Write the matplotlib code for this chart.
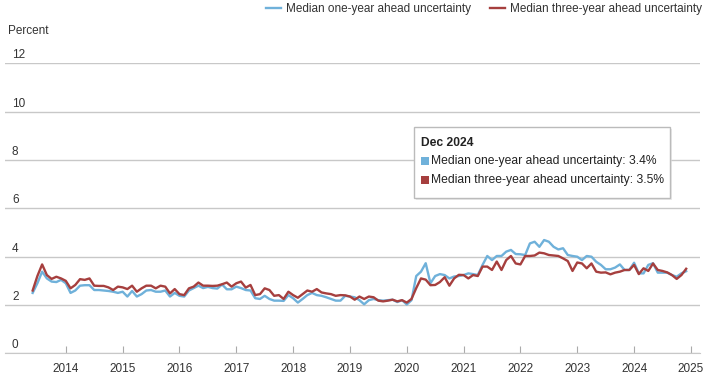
import numpy as np
import matplotlib.pyplot as plt
from matplotlib.patches import FancyBboxPatch, Rectangle

plt.rcParams['font.family'] = ['Liberation Sans', 'DejaVu Sans']

# monthly data, Jun 2013 - Dec 2024
start_year, start_month = 2013, 6

one_year = [
    2.5, 2.9, 3.38, 3.1, 2.97, 2.95, 3.04,                                   # 2013
    2.9, 2.5, 2.6, 2.8, 2.82, 2.82, 2.62, 2.62, 2.6, 2.58, 2.55, 2.5,         # 2014
    2.55, 2.35, 2.58, 2.35, 2.45, 2.6, 2.62, 2.55, 2.55, 2.6, 2.35, 2.5,      # 2015
    2.38, 2.35, 2.6, 2.7, 2.8, 2.7, 2.75, 2.7, 2.68, 2.85, 2.65, 2.65,        # 2016
    2.76, 2.7, 2.62, 2.6, 2.28, 2.25, 2.38, 2.25, 2.18, 2.18, 2.17, 2.41,     # 2017
    2.28, 2.1, 2.25, 2.41, 2.5, 2.41, 2.38, 2.32, 2.25, 2.18, 2.18, 2.38,     # 2018
    2.35, 2.32, 2.2, 2.03, 2.2, 2.25, 2.2, 2.18, 2.2, 2.22, 2.12, 2.2,        # 2019
    2.02, 2.2, 3.2, 3.38, 3.73, 2.9, 3.2, 3.28, 3.24, 3.1, 3.18, 3.2,         # 2020
    3.24, 3.31, 3.28, 3.24, 3.66, 4.03, 3.86, 4.03, 4.03, 4.21, 4.28, 4.11,   # 2021
    4.1, 4.07, 4.55, 4.62, 4.41, 4.69, 4.62, 4.41, 4.3, 4.35, 4.07, 4.03,     # 2022
    4.0, 3.86, 4.03, 4.0, 3.79, 3.66, 3.48, 3.48, 3.55, 3.68, 3.45, 3.45,     # 2023
    3.75, 3.31, 3.31, 3.66, 3.73, 3.34, 3.34, 3.34, 3.24, 3.17, 3.31, 3.4,    # 2024
]

three_year = [
    2.6, 3.2, 3.68, 3.24, 3.08, 3.17, 3.1,                                    # 2013
    3.0, 2.69, 2.83, 3.07, 3.04, 3.1, 2.8, 2.79, 2.79, 2.73, 2.62, 2.76,      # 2014
    2.73, 2.66, 2.8, 2.55, 2.69, 2.8, 2.8, 2.69, 2.8, 2.76, 2.48, 2.66,       # 2015
    2.45, 2.41, 2.69, 2.76, 2.93, 2.8, 2.8, 2.79, 2.8, 2.86, 2.93, 2.76,      # 2016
    2.9, 2.97, 2.72, 2.83, 2.41, 2.45, 2.69, 2.62, 2.38, 2.41, 2.25, 2.55,    # 2017
    2.41, 2.3, 2.45, 2.6, 2.55, 2.66, 2.52, 2.48, 2.45, 2.38, 2.41, 2.4,      # 2018
    2.35, 2.22, 2.35, 2.25, 2.35, 2.32, 2.18, 2.15, 2.18, 2.22, 2.15, 2.2,    # 2019
    2.1, 2.25, 2.7, 3.1, 3.05, 2.82, 2.83, 2.95, 3.15, 2.8, 3.1, 3.25,        # 2020
    3.24, 3.1, 3.24, 3.2, 3.59, 3.59, 3.45, 3.8, 3.45, 3.86, 4.03, 3.72,      # 2021
    3.68, 4.03, 4.03, 4.05, 4.17, 4.14, 4.07, 4.05, 4.03, 3.93, 3.82, 3.41,   # 2022
    3.76, 3.72, 3.52, 3.72, 3.38, 3.34, 3.35, 3.27, 3.34, 3.38, 3.45, 3.45,   # 2023
    3.66, 3.28, 3.52, 3.41, 3.72, 3.45, 3.41, 3.35, 3.24, 3.08, 3.24, 3.5,    # 2024
]

series_names = ['Median one-year ahead uncertainty', 'Median three-year ahead uncertainty']
colors = ['#6fb1da', '#a63f3e']
year_ticks = list(range(2014, 2026))
y_ticks = [0, 2, 4, 6, 8, 10, 12]

n = len(one_year)
x = start_year + (start_month - 1) / 12 + np.arange(n) / 12

W, H = 706, 378
fig = plt.figure(figsize=(W / 100, H / 100), dpi=100)
ax = fig.add_axes([5 / W, (H - 353.3) / H, 695 / W, 289.8 / H])

ax.plot(x, one_year, color=colors[0], lw=1.7, label=series_names[0])
ax.plot(x, three_year, color=colors[1], lw=1.7, label=series_names[1])

ax.set_xlim(2012.93, 2025.16)
ax.set_ylim(0, 12)
ax.set_xticks(year_ticks)
ax.set_xticklabels([str(y) for y in year_ticks])
ax.set_yticks(y_ticks)
ax.set_yticklabels([])
ax.tick_params(axis='y', length=0)
ax.tick_params(axis='x', direction='in', length=5, color='#aaaaaa', labelsize=8.5,
               labelcolor='#333333', pad=7)
ax.grid(axis='y', color='#c8c8c8', lw=1)
ax.set_axisbelow(True)
for s in ['top', 'right', 'left']:
    ax.spines[s].set_visible(False)
ax.spines['bottom'].set_color('#c8c8c8')

for v in y_ticks:
    ax.annotate(str(v), xy=(0.01, v), xycoords=ax.get_yaxis_transform(),
                xytext=(0, 1.5), textcoords='offset points',
                ha='left', va='bottom', fontsize=8.5, color='#333333')

fig.text(8 / W, 1 - 31 / H, 'Percent', fontsize=8.5, color='#333333', va='center')

fig.legend(loc='upper right', bbox_to_anchor=(1.01, 1.02), ncol=2, frameon=False,
           fontsize=8.5, handlelength=1.2, columnspacing=1.6, handletextpad=0.5,
           labelcolor='#333333')

# tooltip box
bx0, by0, bx1, by1 = 414, 127, 670, 198
fig.patches.append(FancyBboxPatch((bx0 / W + 0.003, 1 - by1 / H - 0.006),
                                  (bx1 - bx0) / W, (by1 - by0) / H,
                                  boxstyle='square,pad=0', transform=fig.transFigure,
                                  facecolor='#dddddd', edgecolor='none', alpha=0.6))
fig.patches.append(FancyBboxPatch((bx0 / W, 1 - by1 / H), (bx1 - bx0) / W, (by1 - by0) / H,
                                  boxstyle='square,pad=0', transform=fig.transFigure,
                                  facecolor='white', edgecolor='#bbbbbb', lw=1))
fig.text(421 / W, 1 - 143 / H, 'Dec 2024', fontsize=8.7, fontweight='bold',
         color='#222222', va='center')
values = [one_year[-1], three_year[-1]]
for i, (name, c, v) in enumerate(zip(series_names, colors, values)):
    yc = 161 + 19 * i
    fig.patches.append(Rectangle((421 / W, 1 - (yc + 4) / H), 8 / W, 8 / H,
                                 transform=fig.transFigure, facecolor=c, edgecolor='none'))
    fig.text(431 / W, 1 - yc / H, f'{name}: {v:.1f}%', fontsize=8.7,
             color='#222222', va='center')

fig.savefig('out.png', dpi=100)
